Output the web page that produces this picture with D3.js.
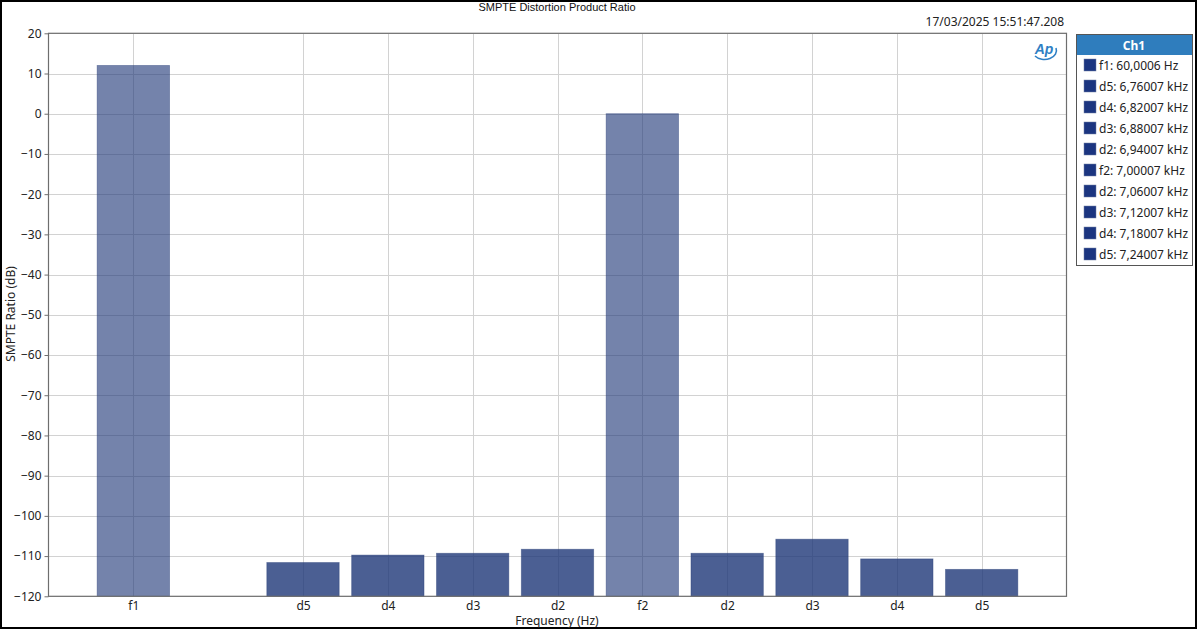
<!DOCTYPE html>
<html><head><meta charset="utf-8">
<script src="https://cdn.jsdelivr.net/npm/d3@7"></script>
<style>
body{margin:0;background:#fff;}
svg{display:block;font-family:"Noto Sans","Open Sans",sans-serif;}
</style></head>
<body><svg id="c" width="1197" height="629"></svg>
<script>
const labels = ["f1","d5","d4","d3","d2","f2","d2","d3","d4","d5"];
const positions = [1,3,4,5,6,7,8,9,10,11];
const values = [12.0,-111.6,-109.75,-109.3,-108.3,0.0,-109.3,-105.8,-110.7,-113.3];
const legendLabels = ["f1: 60,0006 Hz","d5: 6,76007 kHz","d4: 6,82007 kHz","d3: 6,88007 kHz","d2: 6,94007 kHz","f2: 7,00007 kHz","d2: 7,06007 kHz","d3: 7,12007 kHz","d4: 7,18007 kHz","d5: 7,24007 kHz"];
const yTicks = [20,10,0,-10,-20,-30,-40,-50,-60,-70,-80,-90,-100,-110,-120];

const svg = d3.select("#c");
const L=48.5, R=1066.5, T=33.3, B=596.3;
const x = d3.scaleLinear().domain([0,12]).range([L,R]);
const y = d3.scaleLinear().domain([-120,20]).range([B,T]);

svg.append("rect").attr("x",1).attr("y",1).attr("width",1195).attr("height",627).attr("fill","#fff").attr("stroke","#000").attr("stroke-width",2);

// grid
const g = svg.append("g");
g.selectAll("line.h").data(yTicks).enter().append("line")
 .attr("x1",L).attr("x2",R).attr("y1",d=>Math.round(y(d))+0.5).attr("y2",d=>Math.round(y(d))+0.5)
 .attr("stroke","#d2d2d2").attr("stroke-width",1);
g.selectAll("line.v").data(positions).enter().append("line")
 .attr("y1",T).attr("y2",B).attr("x1",d=>Math.round(x(d))+0.5).attr("x2",d=>Math.round(x(d))+0.5)
 .attr("stroke","#d2d2d2").attr("stroke-width",1);

// bars
const bw = (x(1)-x(0))*0.853;
svg.append("g").selectAll("rect").data(values).enter().append("rect")
 .attr("x",(d,i)=>x(positions[i])-bw/2)
 .attr("width",bw)
 .attr("y",d=>y(d))
 .attr("height",d=>y(-120)-y(d))
 .attr("fill","#1e3778")
 .attr("fill-opacity",(d,i)=>labels[i].startsWith("f")?0.62:0.8)
 .attr("stroke","#2a3f78").attr("stroke-opacity",0.5).attr("stroke-width",0.8);

// plot frame
svg.append("rect").attr("x",L).attr("y",T).attr("width",R-L).attr("height",B-T)
 .attr("fill","none").attr("stroke","#6e6e6e").attr("stroke-width",1.2);

// y axis
const ya = svg.append("g").attr("transform",`translate(${L},0)`)
 .call(d3.axisLeft(y).tickValues(yTicks).tickSize(4).tickPadding(3));
ya.select(".domain").remove();
ya.selectAll("line").attr("stroke","#6e6e6e");
ya.selectAll("text").attr("font-size",12).attr("fill","#222").attr("font-family","'Noto Sans',sans-serif");

// x axis
const xa = svg.append("g").attr("transform",`translate(0,${B})`)
 .call(d3.axisBottom(x).tickValues(positions).tickFormat((d,i)=>labels[i]).tickSize(0).tickPadding(5));
xa.select(".domain").remove();
xa.selectAll("text").attr("font-size",12).attr("fill","#222").attr("font-family","'Noto Sans',sans-serif");

// titles
svg.append("text").attr("x",557).attr("y",11).attr("text-anchor","middle").attr("font-size",11)
 .attr("font-family","'Liberation Sans',Arial,sans-serif").attr("fill","#111").text("SMPTE Distortion Product Ratio");
svg.append("text").attr("x",1064).attr("y",26).attr("text-anchor","end").attr("font-size",12)
 .attr("fill","#222").text("17/03/2025 15:51:47.208");
svg.append("text").attr("x",557).attr("y",624.5).attr("text-anchor","middle").attr("font-size",12)
 .attr("fill","#222").text("Frequency (Hz)");
svg.append("text").attr("transform","translate(15,314) rotate(-90)").attr("text-anchor","middle").attr("font-size",12)
 .attr("fill","#222").text("SMPTE Ratio (dB)");

// AP logo
const ap = svg.append("g").attr("transform","translate(1044,50)");
ap.append("path").attr("d","M-9,6 A12,9 0 0,0 12,-2").attr("fill","none").attr("stroke","#2f7fc4").attr("stroke-width",1.6);
ap.append("text").attr("x",0).attr("y",4).attr("text-anchor","middle").attr("font-size",14).attr("font-style","italic")
 .attr("font-weight","bold").attr("fill","#2f7fc4").attr("font-family","'Liberation Sans',Arial,sans-serif").text("Ap");

// legend
const lg = svg.append("g");
lg.append("rect").attr("x",1076.5).attr("y",34.5).attr("width",116).attr("height",231).attr("fill","#fff").attr("stroke","#555");
lg.append("rect").attr("x",1077).attr("y",35).attr("width",115).attr("height",20).attr("fill","#2f7dbd");
lg.append("text").attr("x",1134).attr("y",50).attr("text-anchor","middle").attr("font-size",12).attr("font-weight","bold")
 .attr("fill","#fff").text("Ch1");
const items = lg.selectAll("g.it").data(legendLabels).enter().append("g")
 .attr("transform",(d,i)=>`translate(1084,${59+i*21})`);
items.append("rect").attr("width",12).attr("height",12).attr("fill","#1b3580").attr("stroke","#6f7fa5").attr("stroke-width",0.5);
items.append("text").attr("x",15).attr("y",10.5).attr("font-size",12).attr("fill","#222").text(d=>d);
</script></body></html>
